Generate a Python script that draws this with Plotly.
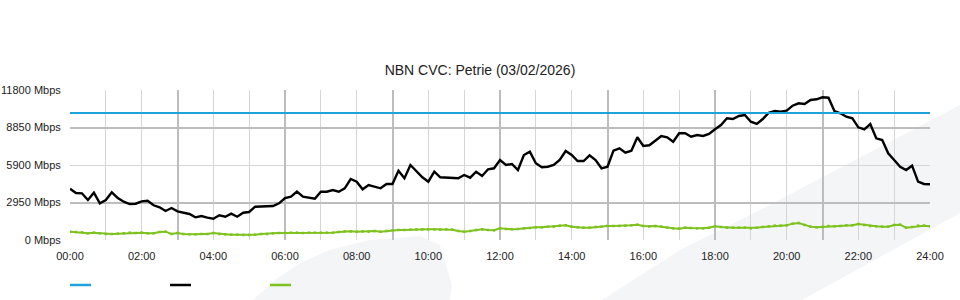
import plotly.graph_objects as go

# 10-minute samples, 00:00 .. 24:00
times = [i / 6 for i in range(145)]

traffic_mbps = [
    4036, 3697, 3674, 3147, 3721, 2887, 3147, 3753, 3304, 3013,
    2832, 2856, 3044, 3092, 2730, 2573, 2281, 2517, 2258, 2148,
    2045, 1786, 1888, 1754, 1676, 1943, 1833, 2069, 1833, 2148,
    2203, 2620, 2620, 2620, 2675, 2887, 3304, 3406, 3800, 3406,
    3357, 3252, 3800, 3800, 3934, 3800, 4067, 4799, 4587, 3988,
    4327, 4193, 4067, 4406, 4406, 5452, 4854, 5900, 5452, 4933,
    4587, 5373, 4933, 4901, 4901, 4854, 5114, 4901, 5373, 5035,
    5562, 5641, 6294, 5900, 5979, 5507, 6687, 6947, 6034, 5719,
    5766, 5900, 6294, 7002, 6687, 6215, 6215, 6663, 6294, 5641,
    5766, 7025, 7214, 6868, 7025, 8079, 7395, 7450, 7812, 8182,
    8079, 7733, 8394, 8394, 8127, 8260, 8182, 8339, 8709, 9047,
    9574, 9519, 9755, 9834, 9307, 9126, 9519, 10015, 10148, 10093,
    10172, 10565, 10754, 10699, 11014, 11069, 11226, 11195, 10148, 9967,
    9700, 9574, 8866, 8709, 9126, 8001, 7867, 6821, 6294, 5766,
    5507, 5845, 4587, 4406, 4382,
]

secondary_mbps = [
    656, 630, 604, 525, 578, 525, 473, 473, 499, 525,
    578, 551, 578, 525, 525, 630, 656, 473, 551, 473,
    447, 447, 473, 473, 551, 473, 447, 420, 420, 394,
    394, 420, 473, 473, 525, 551, 551, 578, 578, 551,
    578, 578, 578, 578, 578, 630, 682, 682, 657, 683,
    657, 709, 657, 709, 762, 788, 788, 814, 840, 840,
    840, 840, 814, 840, 814, 709, 657, 709, 788, 840,
    788, 762, 919, 867, 840, 867, 919, 945, 998, 998,
    1050, 1050, 1129, 1155, 1050, 998, 972, 972, 1024, 1050,
    1103, 1103, 1103, 1129, 1155, 1207, 1103, 1076, 1103, 1051,
    972, 920, 893, 972, 946, 920, 920, 972, 1077, 1024,
    972, 972, 972, 972, 920, 972, 1024, 1077, 1129, 1129,
    1156, 1287, 1339, 1182, 1051, 998, 1024, 1103, 1077, 1103,
    1156, 1156, 1260, 1182, 1103, 1077, 1051, 1051, 1182, 1208,
    972, 1024, 1129, 1129, 1077,
]

capacity_mbps = 10000
capacity_x = [0, 24]

y_tick_vals = [0, 2950, 5900, 8850, 11800]
y_tick_text = ["0 Mbps", "2950 Mbps", "5900 Mbps", "8850 Mbps", "11800 Mbps"]
y_major_vals = [2950, 8850]
x_tick_vals = list(range(0, 25, 2))
x_tick_text = ["%02d:00" % h for h in x_tick_vals]

BLUE = "#1ea3dc"
BLACK = "#000000"
GREEN = "#7dc21e"
FONT = "Liberation Sans, Arial, sans-serif"

fig = go.Figure()

fig.add_trace(go.Scatter(x=times, y=secondary_mbps, mode="lines+markers",
                         line=dict(color=GREEN, width=2),
                         marker=dict(symbol="square", size=2.5, color=GREEN),
                         showlegend=False))
fig.add_trace(go.Scatter(x=times, y=traffic_mbps, mode="lines",
                         line=dict(color=BLACK, width=2.4), showlegend=False))
fig.add_trace(go.Scatter(x=capacity_x, y=[capacity_mbps] * len(capacity_x), mode="lines",
                         line=dict(color=BLUE, width=2), showlegend=False, hoverinfo="skip"))
# invisible trace carrying the secondary (darker) grid axes
fig.add_trace(go.Scatter(x=[0, 24], y=[0, 11800], xaxis="x2", yaxis="y2", mode="markers",
                         marker=dict(opacity=0), showlegend=False, hoverinfo="skip"))

# faint watermark shapes
def ppath(pts):
    return "M " + " L ".join("%.4f,%.4f" % p for p in pts) + " Z"

wm1 = [(0.6186, -0.4), (0.7093, -0.0667), (0.8023, 0.2), (1.0349, 0.9), (1.0349, 0.18), (0.8512, -0.4)]
wm2 = [(0.2128, -0.4), (0.2384, -0.2667), (0.2674, -0.1533), (0.3023, -0.0667), (0.3488, 0.0),
       (0.4070, 0.0267), (0.4302, -0.0333), (0.4442, -0.3), (0.4419, -0.4)]
shapes = []
for pts in (wm1, wm2):
    shapes.append(dict(type="path", xref="paper", yref="paper", path=ppath(pts),
                       fillcolor="#f4f5f7", line=dict(width=0), layer="below"))

# legend swatches (no labels)
for i, c in enumerate([BLUE, BLACK, GREEN]):
    x0 = i * 0.1163
    shapes.append(dict(type="line", xref="paper", yref="paper", x0=x0, x1=x0 + 0.0244,
                       y0=-0.3, y1=-0.3, line=dict(color=c, width=2.5)))

fig.update_layout(
    width=960, height=300,
    margin=dict(l=70, r=30, t=90, b=60, autoexpand=False),
    paper_bgcolor="white", plot_bgcolor="rgba(0,0,0,0)",
    font=dict(family=FONT, size=11, color="#222"),
    title=dict(text="NBN CVC: Petrie (03/02/2026)", x=0.5, xanchor="center",
               y=1 - 70 / 300, yanchor="middle", yref="container",
               font=dict(family=FONT, size=14, color="#222")),
    showlegend=False,
    shapes=shapes,
    xaxis=dict(range=[0, 24], tickmode="array", tickvals=x_tick_vals, ticktext=x_tick_text,
               showgrid=True, gridcolor="#d6d6d6", gridwidth=1,
               minor=dict(dtick=1, tick0=0, showgrid=True, gridcolor="#d6d6d6", gridwidth=1),
               zeroline=False, showline=False, ticks="outside", ticklen=6, tickcolor="rgba(0,0,0,0)",
               automargin=False, fixedrange=True),
    yaxis=dict(range=[0, 11800], tickmode="array", tickvals=y_tick_vals, ticktext=y_tick_text,
               showgrid=True, gridcolor="#d6d6d6", gridwidth=1, zeroline=False, showline=False,
               ticks="outside", ticklen=6, tickcolor="rgba(0,0,0,0)", automargin=False,
               fixedrange=True),
    xaxis2=dict(overlaying="x", matches="x", range=[0, 24], dtick=3, tick0=0, showgrid=True,
                gridcolor="#bdbdbd", gridwidth=2, showticklabels=False, zeroline=False, ticks="",
                automargin=False),
    yaxis2=dict(overlaying="y", range=[0, 11800], tickmode="array", tickvals=y_major_vals,
                showgrid=True, gridcolor="#bdbdbd", gridwidth=2, showticklabels=False,
                zeroline=False, ticks="", automargin=False),
)

fig.write_html("out.html")
